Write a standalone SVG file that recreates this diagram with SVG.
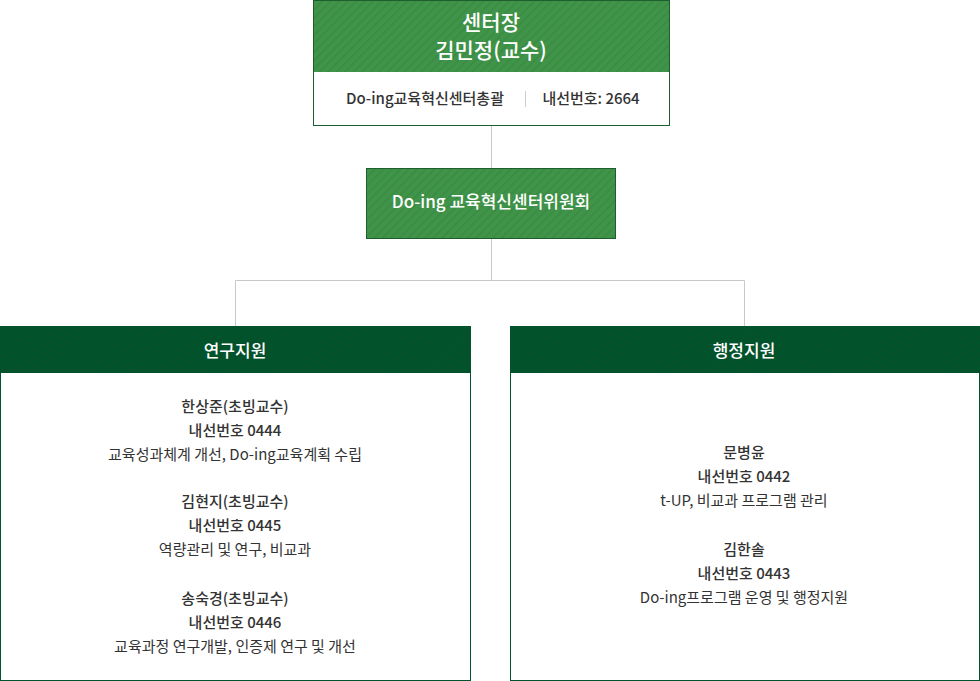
<svg xmlns="http://www.w3.org/2000/svg" width="980" height="681" viewBox="0 0 980 681">
<defs>
<pattern id="h1" width="6" height="6" patternUnits="userSpaceOnUse" patternTransform="rotate(45)"><rect width="6" height="6" fill="#409449"/><rect width="1.5" height="6" fill="#3a8a42"/></pattern>
<pattern id="h2" width="6" height="6" patternUnits="userSpaceOnUse" patternTransform="rotate(45)"><rect width="6" height="6" fill="#00542c"/><rect width="1.5" height="6" fill="#0a4d2a"/></pattern>
<style>
text{font-family:"Noto Sans CJK KR","Noto Sans",sans-serif;text-anchor:middle}
.w{fill:#fff}
.b{fill:#333;font-size:15px;font-weight:500}
.r{fill:#333;font-size:15px;font-weight:400}
.ln{stroke:#c8c8c8;stroke-width:1;fill:none}
</style>
</defs>
<g id="connectors">
<path class="ln" d="M491.5 125V168M491.5 238V280.5M235.5 326V280.5H744.5V326"/>
</g>
<g id="director">
<rect x="313.5" y="0.5" width="356" height="125" fill="#fff" stroke="#1e5e2e"/>
<rect x="314" y="1" width="355" height="71" fill="url(#h1)"/>
<text class="w" x="491" y="30" font-size="21" font-weight="500">센터장</text>
<text class="w" x="491" y="58" font-size="21" font-weight="500">김민정(교수)</text>
<text class="b" x="425" y="104">Do-ing교육혁신센터총괄</text>
<line x1="525.5" y1="91" x2="525.5" y2="107" stroke="#ccc"/>
<text class="b" x="591" y="104">내선번호: 2664</text>
</g>
<g id="committee">
<rect x="366.5" y="168.5" width="249" height="70" fill="url(#h1)" stroke="#1e5e2e"/>
<text class="w" x="491" y="208" font-size="17" font-weight="500">Do-ing 교육혁신센터위원회</text>
</g>
<g id="research">
<rect x="0.5" y="326.5" width="470" height="354" fill="#fff" stroke="#00542c"/>
<rect x="0" y="326" width="471" height="47" fill="url(#h2)"/>
<text class="w" x="235" y="357" font-size="17" font-weight="500">연구지원</text>
<text class="b" x="235" y="412">한상준(초빙교수)</text>
<text class="b" x="235" y="436">내선번호 0444</text>
<text class="r" x="235" y="460">교육성과체계 개선, Do-ing교육계획 수립</text>
<text class="b" x="235" y="507">김현지(초빙교수)</text>
<text class="b" x="235" y="531">내선번호 0445</text>
<text class="r" x="235" y="555">역량관리 및 연구, 비교과</text>
<text class="b" x="235" y="604">송숙경(초빙교수)</text>
<text class="b" x="235" y="628">내선번호 0446</text>
<text class="r" x="235" y="652">교육과정 연구개발, 인증제 연구 및 개선</text>
</g>
<g id="admin">
<rect x="510.5" y="326.5" width="469" height="354" fill="#fff" stroke="#00542c"/>
<rect x="510" y="326" width="470" height="47" fill="url(#h2)"/>
<text class="w" x="744" y="357" font-size="17" font-weight="500">행정지원</text>
<text class="b" x="744" y="458">문병윤</text>
<text class="b" x="744" y="482">내선번호 0442</text>
<text class="r" x="744" y="506">t-UP, 비교과 프로그램 관리</text>
<text class="b" x="744" y="555">김한솔</text>
<text class="b" x="744" y="579">내선번호 0443</text>
<text class="r" x="744" y="603">Do-ing프로그램 운영 및 행정지원</text>
</g>
</svg>
